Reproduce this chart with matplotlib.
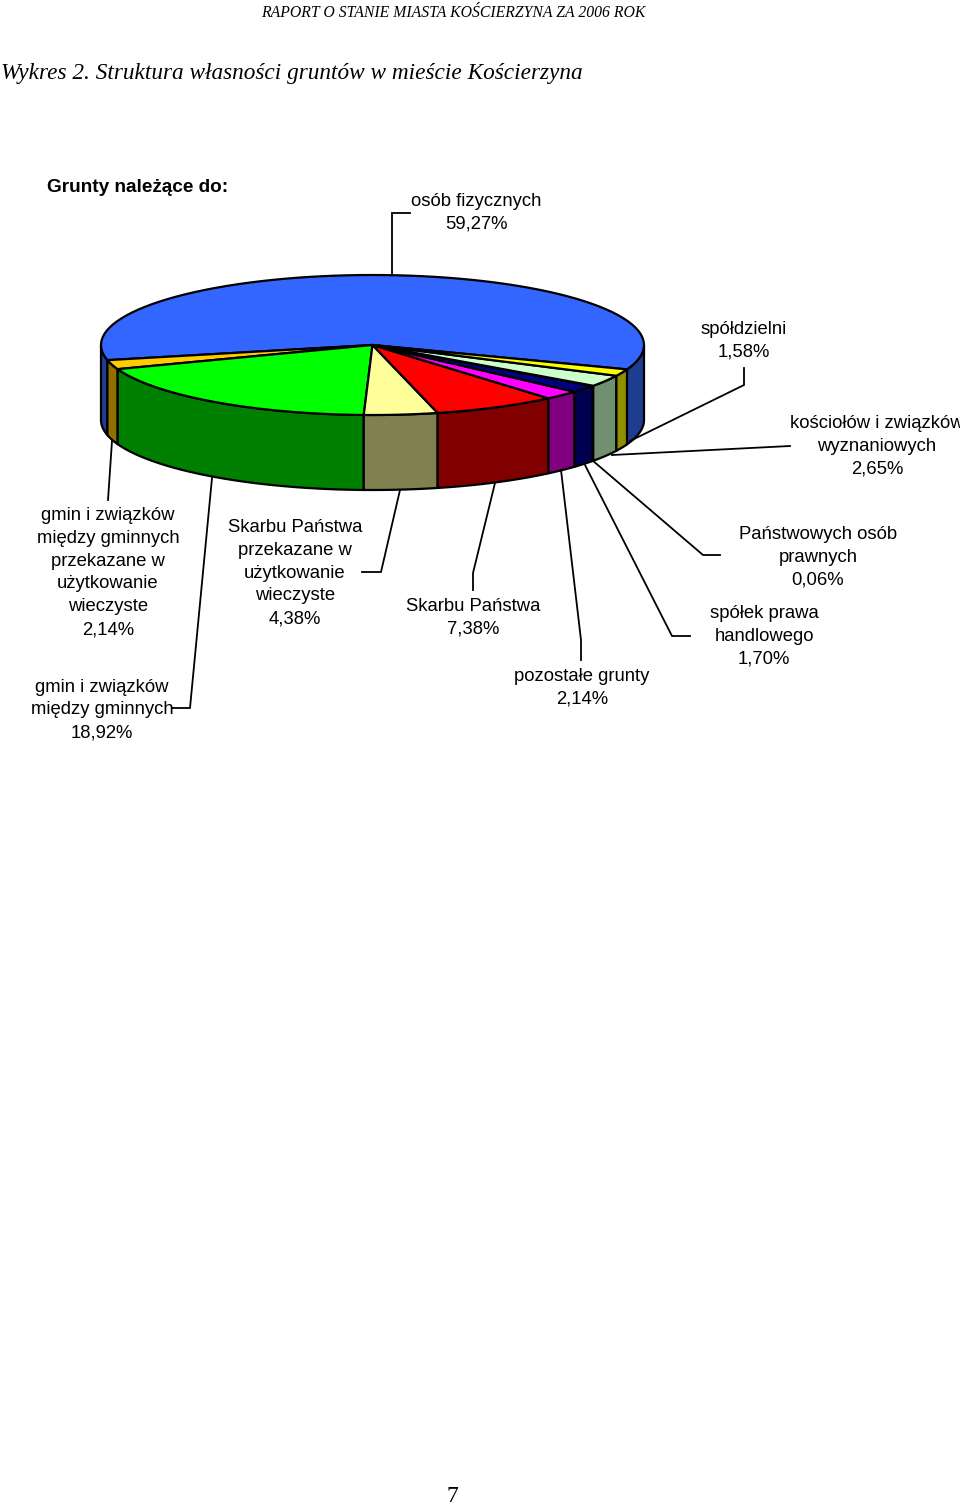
import numpy as np
import matplotlib
matplotlib.use('Agg')
import matplotlib.pyplot as plt
from matplotlib.patches import Polygon

# udzialy gruntow, kolejnosc przeciwnie do wskazowek zegara
labels = ['osób fizycznych\n59,27%',
          'gmin i związków\nmiędzy gminnych\nprzekazane w\nużytkowanie\nwieczyste\n2,14%',
          'gmin i związków\nmiędzy gminnych\n18,92%',
          'Skarbu Państwa\nprzekazane w\nużytkowanie\nwieczyste\n4,38%',
          'Skarbu Państwa\n7,38%',
          'pozostałe grunty\n2,14%',
          'spółek prawa\nhandlowego\n1,70%',
          'Państwowych osób\nprawnych\n0,06%',
          'kościołów i związków\nwyznaniowych\n2,65%',
          'spółdzielni\n1,58%']
values = [59.27, 2.14, 18.92, 4.38, 7.38, 2.14, 1.70, 0.06, 2.65, 1.58]
top_colors = ['#3366ff', '#ffcc00', '#00ff00', '#ffff99', '#ff0000',
              '#ff00ff', '#000080', '#808080', '#ccffcc', '#ffff00']
side_colors = ['#1f3d8f', '#8f7000', '#008000', '#808050', '#800000',
               '#800080', '#000050', '#505050', '#709070', '#8f8f00']

cx, cy = 372.5, 345
rx, ry = 271.5, 70
depth = 75
start = -20.4

def arc(a0, a1, dy=0):
    t = np.radians(np.linspace(a0, a1, 80))
    return np.column_stack([cx + rx * np.cos(t), cy - ry * np.sin(t) + dy])

fig = plt.figure(figsize=(9.6, 15.07), dpi=100)
ax = fig.add_axes([0, 0, 1, 1])
ax.set_xlim(0, 960)
ax.set_ylim(1507, 0)
ax.axis('off')

angles = start + np.concatenate([[0], np.cumsum(values)]) / sum(values) * 360

# bok walca (tylko dolna polowa widoczna)
for i in range(len(values)):
    a0, a1 = angles[i], angles[i + 1]
    for lo, hi in [(-180, 0), (180, 360)]:
        s0, s1 = max(a0, lo), min(a1, hi)
        if s1 > s0:
            pts = np.vstack([arc(s0, s1), arc(s1, s0, depth)])
            ax.add_patch(Polygon(pts, fc=side_colors[i], ec='black', lw=1.6, joinstyle='round'))

# wierzch
for i in range(len(values)):
    pts = np.vstack([[cx, cy], arc(angles[i], angles[i + 1])])
    ax.add_patch(Polygon(pts, fc=top_colors[i], ec='black', lw=1.6, joinstyle='round'))

# linie odniesienia
leaders = [
    [(392, 275), (392, 213), (410, 213)],
    [(744, 368), (744, 385), (630, 441)],
    [(790, 446), (612, 455)],
    [(720, 555), (703, 555), (592, 460)],
    [(690, 636), (672, 636), (585, 465)],
    [(581, 660), (581, 640), (561, 470)],
    [(473, 590), (473, 573), (495, 483)],
    [(362, 572), (381, 572), (400, 490)],
    [(172, 708), (190, 708), (212, 478)],
    [(108, 500), (112, 441)],
]
for line in leaders:
    xs, ys = zip(*line)
    ax.plot(xs, ys, color='black', lw=1.3, solid_joinstyle='miter')

sans = 'Liberation Sans'
serif = 'Liberation Serif'

# srodki opisow, w tej samej kolejnosci co labels
label_pos = [(476, 212.5), (108, 572.5), (102, 710), (295, 573), (473, 618),
             (582, 688), (764, 636.5), (818, 557), (877, 446.5), (744, 340.5)]
for text, (x, y) in zip(labels, label_pos):
    ax.text(x, y, text, family=sans, fontsize=13.3, ha='center', va='center',
            linespacing=1.45, color='black')

ax.text(47, 188, 'Grunty należące do:', family=sans, fontsize=13.7, fontweight='bold', ha='left', va='center')
ax.text(453, 13, 'RAPORT O STANIE MIASTA KOŚCIERZYNA ZA 2006 ROK', family=serif, style='italic',
        fontsize=11.35, ha='center', va='center')
ax.text(1, 74, 'Wykres 2. Struktura własności gruntów w mieście Kościerzyna', family=serif, style='italic',
        fontsize=16.75, ha='left', va='center')
ax.text(452, 1497, '7', family=serif, fontsize=17, ha='center', va='center')

fig.savefig('out.png', dpi=100)
